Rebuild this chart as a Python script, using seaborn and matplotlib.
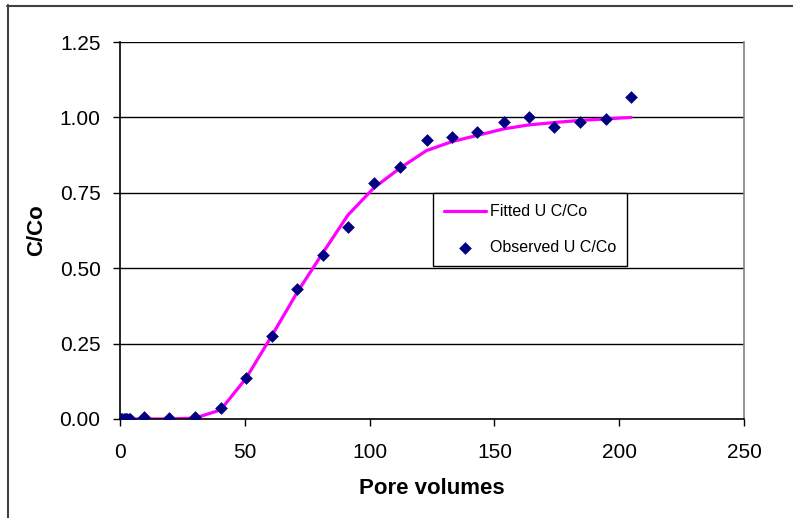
import matplotlib
matplotlib.use("Agg")
import matplotlib.pyplot as plt
from matplotlib.lines import Line2D
from matplotlib.ticker import FormatStrFormatter, MultipleLocator
import seaborn as sns
import pandas as pd

# Observed breakthrough data (pore volumes vs relative concentration)
obs_pv = [0.0, 0.5, 1.0, 1.5, 2.0, 2.5, 3.0, 3.5, 4.0,
          9.5, 19.8, 30.0, 40.3, 50.5, 60.8, 71.0, 81.2, 91.3, 101.8,
          112.2, 122.8, 133.1, 143.0, 153.8, 163.7, 174.0, 184.3, 194.6, 204.8]
obs_c = [0.0, 0.0, 0.0, 0.0, 0.0, 0.0, 0.0, 0.0, 0.0,
         0.005, 0.004, 0.005, 0.035, 0.137, 0.276, 0.431, 0.544, 0.637, 0.783,
         0.836, 0.925, 0.936, 0.950, 0.984, 1.000, 0.969, 0.985, 0.994, 1.068]

# Fitted curve evaluated at the same pore volumes
fit_pv = [0.0, 9.5, 19.8, 30.0, 40.3, 50.5, 60.8, 71.0, 81.2, 91.3, 101.8,
          112.2, 122.8, 133.1, 143.0, 153.8, 163.7, 174.0, 184.3, 194.6, 204.8]
fit_c = [0.0, 0.0, 0.0, 0.003, 0.03, 0.135, 0.276, 0.42, 0.55, 0.676, 0.767,
         0.832, 0.89, 0.92, 0.94, 0.962, 0.975, 0.983, 0.99, 0.995, 1.0]

sns.set_style("white")
plt.rcParams["font.family"] = ["Liberation Sans", "DejaVu Sans"]
plt.rcParams["text.color"] = "black"
plt.rcParams["axes.labelcolor"] = "black"
plt.rcParams["xtick.color"] = "black"
plt.rcParams["ytick.color"] = "black"

fig = plt.figure(figsize=(7.93, 5.18), dpi=100)
ax = fig.add_axes([120 / 793, 1 - 419 / 518, 624 / 793, 377 / 518])

fit_df = pd.DataFrame({"pv": fit_pv, "c": fit_c})
obs_df = pd.DataFrame({"pv": obs_pv, "c": obs_c})

for y in [0.25, 0.5, 0.75, 1.0, 1.25]:
    ax.axhline(y, color="black", lw=1.0, zorder=0)

sns.lineplot(data=fit_df, x="pv", y="c", ax=ax, color="#FF00FF", lw=2.3,
             label="Fitted U C/Co", zorder=2)
sns.scatterplot(data=obs_df, x="pv", y="c", ax=ax, marker="D", s=42,
                color="#000080", edgecolor="#000080", linewidth=0,
                label="Observed U C/Co", zorder=3)

ax.set_xlim(0, 250)
ax.set_ylim(0, 1.25)
ax.xaxis.set_major_locator(MultipleLocator(50))
ax.yaxis.set_major_locator(MultipleLocator(0.25))
ax.yaxis.set_major_formatter(FormatStrFormatter("%.2f"))
ax.tick_params(axis="both", which="major", direction="out", length=5,
               width=1, color="black", labelsize=15, left=True, bottom=True)
ax.tick_params(axis="x", pad=12.5)
ax.tick_params(axis="y", pad=9)

for side in ["left", "bottom"]:
    ax.spines[side].set_color("black")
    ax.spines[side].set_linewidth(1.2)
ax.spines["top"].set_visible(False)
ax.spines["right"].set_color("#808080")
ax.spines["right"].set_linewidth(1.2)

ax.set_xlabel("Pore volumes", fontsize=16, fontweight="bold", labelpad=11)
ax.set_ylabel("C/Co", fontsize=16, fontweight="bold", labelpad=9)

leg = ax.legend(loc="upper left", bbox_to_anchor=((433 - 120) / 624, (419 - 193) / 377),
                fontsize=11.5, frameon=True, fancybox=False, edgecolor="black",
                framealpha=1, borderpad=0.7, handlelength=2.6, handletextpad=0.25,
                labelspacing=1.3, borderaxespad=0)
leg.get_frame().set_linewidth(1.0)

# Outer chart frame
fig.add_artist(Line2D([7 / 793, 1], [1 - 5.5 / 518, 1 - 5.5 / 518],
                      transform=fig.transFigure, color="#404040", lw=1.5))
fig.add_artist(Line2D([7.5 / 793, 7.5 / 793], [0, 1 - 5 / 518],
                      transform=fig.transFigure, color="#404040", lw=1.5))

fig.savefig("out.png", dpi=100)
